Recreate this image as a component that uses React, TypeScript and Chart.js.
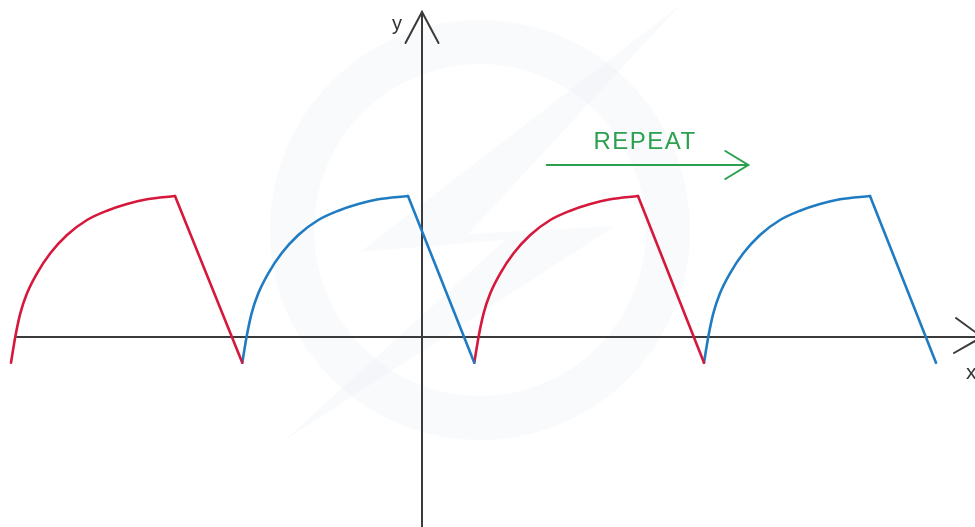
import React, { useEffect, useRef } from "react";
import { Chart, registerables } from "chart.js";

Chart.register(...registerables);

// ---- data (units: 1 unit = 10px of the reference, origin at axes crossing) ----
const RED = "#d5183b";
const BLUE = "#1f7cc3";

const ARC1_X = [-41.1, -40.67, -40.17, -39.5, -38.5, -37.17, -35.5, -33.5, -31.5, -29.5, -27.5, -24.7];
const ARC2_X = [-17.97, -17.54, -17.04, -16.37, -15.37, -14.04, -12.37, -10.37, -8.37, -6.37, -4.37, -1.4];
const ARC3_X = [5.23, 5.66, 6.16, 6.83, 7.83, 9.16, 10.83, 12.83, 14.83, 16.83, 18.83, 21.6];
const ARC4_X = [28.2, 28.63, 29.13, 29.8, 30.8, 32.13, 33.8, 35.8, 37.8, 39.8, 41.8, 44.8];
const ARC_Y = [-2.57, 0.03, 2.37, 4.37, 6.37, 8.37, 10.2, 11.7, 12.63, 13.3, 13.77, 14.1];

const DROP1 = [[-24.7, 14.1], [-17.97, -2.57]];
const DROP2 = [[-1.4, 14.1], [5.23, -2.57]];
const DROP3 = [[21.6, 14.1], [28.2, -2.57]];
const DROP4 = [[44.8, 14.1], [51.4, -2.57]];

const X_MIN = -42.2;
const X_MAX = 55.3;
const Y_MIN = -19.0;
const Y_MAX = 33.7;

const X_AXIS_START = -40.5;
const X_AXIS_END = 55.8;
const Y_AXIS_TOP = 32.5;

const REPEAT_LABEL = "REPEAT";
const REPEAT_ARROW = [[12.47, 17.2], [32.63, 17.2]];
const REPEAT_TEXT_POS = [22.3, 18.77];

const toPts = (xs: number[], ys: number[]) => xs.map((x, i) => ({ x, y: ys[i] }));
const seg = (s: number[][]) => s.map(([x, y]) => ({ x, y }));

const decor = {
  id: "decor",
  beforeDatasetsDraw(chart: any) {
    const { ctx, scales } = chart;
    const xs = scales.x;
    const ys = scales.y;
    const px = (v: number) => xs.getPixelForValue(v);
    const py = (v: number) => ys.getPixelForValue(v);
    const ox = px(0);
    const oy = py(0);

    // faint watermark
    ctx.save();
    ctx.fillStyle = "rgba(228,236,244,0.24)";
    ctx.strokeStyle = "rgba(228,236,244,0.24)";
    const cx = px(5.8), cy = py(10.7);
    ctx.lineWidth = 44;
    ctx.beginPath();
    ctx.arc(cx, cy, 188, 0, Math.PI * 2);
    ctx.stroke();
    ctx.beginPath();
    ctx.moveTo(680, 5);
    ctx.lineTo(360, 252);
    ctx.lineTo(505, 240);
    ctx.lineTo(285, 440);
    ctx.lineTo(615, 226);
    ctx.lineTo(468, 234);
    ctx.closePath();
    ctx.fill();
    ctx.restore();

    // axes
    ctx.save();
    ctx.strokeStyle = "#3b3b3b";
    ctx.lineWidth = 2;
    ctx.lineCap = "round";
    ctx.beginPath();
    ctx.moveTo(px(X_AXIS_START), oy);
    ctx.lineTo(px(X_AXIS_END), oy);
    ctx.moveTo(ox, py(Y_AXIS_TOP));
    ctx.lineTo(ox, chart.chartArea.bottom + 2);
    ctx.stroke();

    // arrowheads
    const xt = px(X_AXIS_END) + 2;
    ctx.beginPath();
    ctx.moveTo(xt - 26, oy - 19);
    ctx.lineTo(xt, oy);
    ctx.lineTo(xt - 28, oy + 16);
    ctx.stroke();
    const yt = py(Y_AXIS_TOP);
    ctx.beginPath();
    ctx.moveTo(ox - 16.5, yt + 31);
    ctx.lineTo(ox, yt);
    ctx.lineTo(ox + 16.5, yt + 31);
    ctx.stroke();

    ctx.fillStyle = "#333";
    ctx.font = '20px "Liberation Sans", Arial, sans-serif';
    ctx.textAlign = "left";
    ctx.textBaseline = "alphabetic";
    ctx.fillText("y", ox - 30, yt + 18);
    ctx.font = '21px "Liberation Sans", Arial, sans-serif';
    ctx.fillText("x", 966, oy + 42);
    ctx.restore();

    // REPEAT annotation
    ctx.save();
    const green = "#2ba04f";
    ctx.strokeStyle = green;
    ctx.fillStyle = green;
    ctx.lineWidth = 2;
    ctx.lineCap = "round";
    const ax0 = px(REPEAT_ARROW[0][0]);
    const ax1 = px(REPEAT_ARROW[1][0]);
    const ay = py(REPEAT_ARROW[0][1]);
    ctx.beginPath();
    ctx.moveTo(ax0, ay);
    ctx.lineTo(ax1, ay);
    ctx.moveTo(ax1 - 23, ay - 14);
    ctx.lineTo(ax1, ay);
    ctx.lineTo(ax1 - 23, ay + 14);
    ctx.stroke();
    ctx.font = '24px "Liberation Sans", Arial, sans-serif';
    try { (ctx as any).letterSpacing = "1.5px"; } catch (e) {}
    ctx.textAlign = "center";
    ctx.textBaseline = "alphabetic";
    ctx.fillText(REPEAT_LABEL, px(REPEAT_TEXT_POS[0]), py(REPEAT_TEXT_POS[1]));
    ctx.restore();
  },
};

export default function App() {
  const ref = useRef<HTMLCanvasElement | null>(null);
  useEffect(() => {
    if (!ref.current) return;
    const arc = (xs: number[], color: string) => ({
      data: toPts(xs, ARC_Y),
      borderColor: color,
      borderWidth: 2.6,
      pointRadius: 0,
      cubicInterpolationMode: "monotone" as const,
      fill: false,
    });
    const drop = (s: number[][], color: string) => ({
      data: seg(s),
      borderColor: color,
      borderWidth: 2.6,
      pointRadius: 0,
      fill: false,
    });
    const chart = new Chart(ref.current, {
      type: "line",
      data: {
        datasets: [
          arc(ARC1_X, RED), drop(DROP1, RED),
          arc(ARC2_X, BLUE), drop(DROP2, BLUE),
          arc(ARC3_X, RED), drop(DROP3, RED),
          arc(ARC4_X, BLUE), drop(DROP4, BLUE),
        ] as any,
      },
      options: {
        animation: false,
        responsive: false,
        devicePixelRatio: 1,
        layout: { padding: 0 },
        plugins: { legend: { display: false }, tooltip: { enabled: false } },
        elements: { line: { borderJoinStyle: "round", borderCapStyle: "round" } },
        scales: {
          x: { type: "linear", min: X_MIN, max: X_MAX, display: false },
          y: { type: "linear", min: Y_MIN, max: Y_MAX, display: false },
        },
      },
      plugins: [decor],
    });
    return () => chart.destroy();
  }, []);
  return (
    <div style={{ position: "absolute", left: 0, top: 0, width: 975, height: 527, background: "#fff" }}>
      <canvas ref={ref} width={975} height={527} />
    </div>
  );
}
